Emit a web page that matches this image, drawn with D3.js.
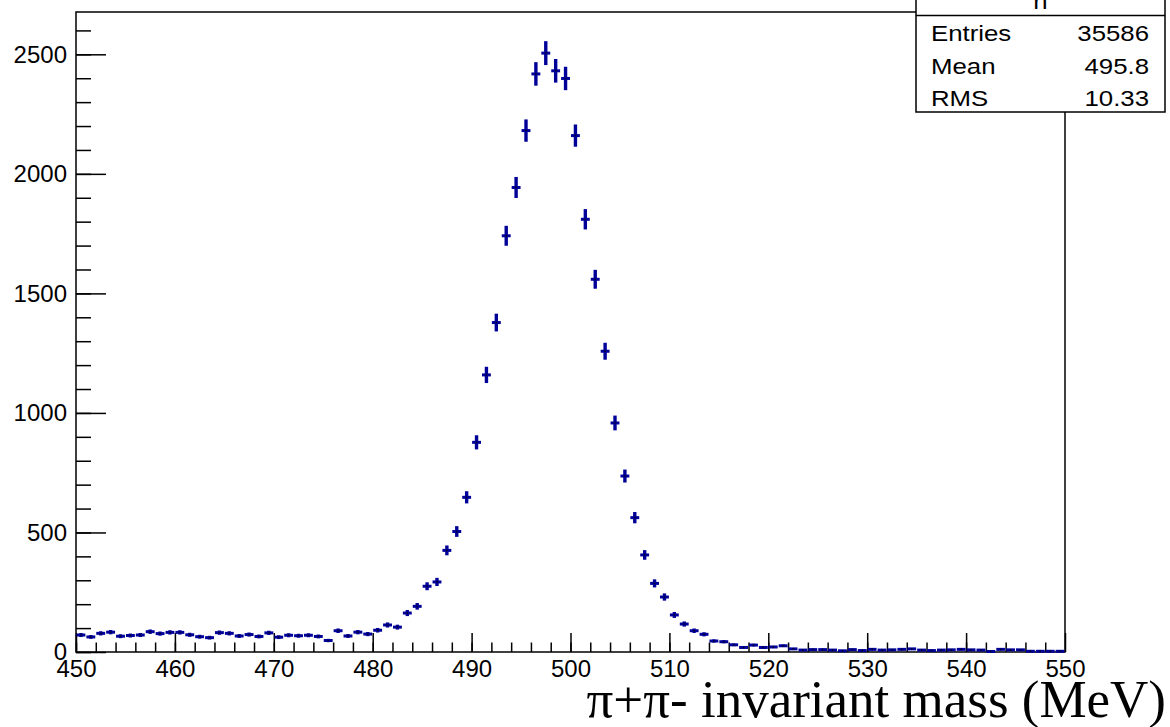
<!DOCTYPE html>
<html>
<head>
<meta charset="utf-8">
<script src="https://cdn.jsdelivr.net/npm/d3@7"></script>
<style>
  body { margin: 0; background: #fff; }
  svg { display: block; }
  .axis text { font-family: "Liberation Sans", Arial, Helvetica, sans-serif; fill: #000; }
  .axis line { stroke: #000; stroke-width: 1.5; }
  .stats text { font-family: "Liberation Sans", Arial, Helvetica, sans-serif; font-size: 21.5px; fill: #000; }
</style>
</head>
<body>
<div id="chart"></div>
<script>
(function () {
  "use strict";

  // histogram "h": 100 bins of 1 MeV from 450 to 550
  const xRange = [450, 550];
  const binWidth = 1;
  const counts = [
    71, 63, 78, 83, 66, 69, 71, 85, 77, 82,
    82, 72, 64, 60, 81, 78, 67, 73, 65, 80,
    62, 70, 68, 70, 65, 48, 89, 67, 83, 75,
    91, 113, 104, 163, 191, 275, 293, 425, 504, 647,
    877, 1159, 1378, 1741, 1943, 2181, 2418, 2505, 2431, 2399,
    2160, 1810, 1559, 1258, 958, 736, 562, 406, 287, 230,
    155, 117, 89, 74, 46, 43, 30, 19, 29, 19,
    21, 26, 13, 8, 10, 10, 8, 5, 10, 6,
    11, 8, 9, 11, 13, 8, 6, 8, 9, 11,
    9, 8, 2, 11, 9, 9, 3, 3, 3, 3
  ];
  const yMax = 2677;
  const xMajorTicks = [450, 460, 470, 480, 490, 500, 510, 520, 530, 540, 550];
  const yMajorTicks = [0, 500, 1000, 1500, 2000, 2500];
  const statsTitle = "h";
  const statsLabels = ["Entries", "Mean", "RMS"];
  const statsValues = ["35586", "495.8", "10.33"];
  const xTitle = "\u03c0+\u03c0- invariant mass (MeV)";

  const width = 1170, height = 727;
  const frame = { left: 76, right: 1065, top: 12, bottom: 652 };

  const x = d3.scaleLinear().domain(xRange).range([frame.left, frame.right]);
  const y = d3.scaleLinear().domain([0, yMax]).range([frame.bottom, frame.top]);

  const bins = counts.map((n, i) => {
    let lo = xRange[0] + i * binWidth;
    return { lo, hi: lo + binWidth, mid: lo + binWidth / 2, n, err: Math.sqrt(n) };
  });

  const svg = d3.select("#chart")
    .append("svg")
    .attr("width", width)
    .attr("height", height)
    .attr("viewBox", `0 0 ${width} ${height}`);

  // Frame
  svg.append("rect")
    .attr("x", frame.left)
    .attr("y", frame.top)
    .attr("width", frame.right - frame.left)
    .attr("height", frame.bottom - frame.top)
    .attr("fill", "none")
    .attr("stroke", "#000")
    .attr("stroke-width", 1.5);

  // Minor ticks (no labels)
  svg.append("g")
    .classed("axis", true)
    .attr("transform", `translate(${frame.left},0)`)
    .call(d3.axisLeft(y).tickValues(d3.range(0, yMax, 100)).tickSize(-15).tickFormat(""))
    .call((g) => g.select(".domain").remove());

  svg.append("g")
    .classed("axis", true)
    .attr("transform", `translate(0,${frame.bottom})`)
    .call(d3.axisBottom(x).tickValues(d3.range(xRange[0], xRange[1], 2)).tickSize(-9.5).tickFormat(""))
    .call((g) => g.select(".domain").remove());

  // Major ticks with labels
  svg.append("g")
    .classed("axis", true)
    .attr("transform", `translate(${frame.left},0)`)
    .call(d3.axisLeft(y).tickValues(yMajorTicks).tickSize(-30).tickPadding(9).tickFormat(d3.format("d")))
    .call((g) => g.select(".domain").remove())
    .attr("font-size", 24)
    .attr("font-family", null);

  svg.append("g")
    .classed("axis", true)
    .attr("transform", `translate(0,${frame.bottom})`)
    .call(d3.axisBottom(x).tickValues(xMajorTicks).tickSize(-19).tickPadding(8).tickFormat(d3.format("d")))
    .call((g) => g.select(".domain").remove())
    .attr("font-size", 24)
    .attr("font-family", null);

  // Error bars
  const marks = svg.append("g").classed("points", true);
  marks.selectAll("line.xerr")
    .data(bins)
    .enter()
    .append("line")
    .classed("xerr", true)
    .attr("x1", (d) => x(d.lo) + 0.5)
    .attr("x2", (d) => x(d.hi) - 0.5)
    .attr("y1", (d) => y(d.n))
    .attr("y2", (d) => y(d.n))
    .attr("stroke", "#000099")
    .attr("stroke-width", 3);

  marks.selectAll("line.yerr")
    .data(bins)
    .enter()
    .append("line")
    .classed("yerr", true)
    .attr("x1", (d) => x(d.mid))
    .attr("x2", (d) => x(d.mid))
    .attr("y1", (d) => y(Math.max(0, d.n - d.err)))
    .attr("y2", (d) => y(d.n + d.err))
    .attr("stroke", "#000099")
    .attr("stroke-width", 3.4);

  marks.selectAll("rect.dot")
    .data(bins)
    .enter()
    .append("rect")
    .classed("dot", true)
    .attr("x", (d) => x(d.mid) - 0.75)
    .attr("y", (d) => y(d.n) - 0.75)
    .attr("width", 1.5)
    .attr("height", 1.5)
    .attr("fill", "#000022");

  // Stats box
  const box = { left: 916, right: 1165, top: -30, sep: 15.5, bottom: 112 };
  const stats = svg.append("g").classed("stats", true);
  stats.append("rect")
    .attr("x", box.left)
    .attr("y", box.top)
    .attr("width", box.right - box.left)
    .attr("height", box.bottom - box.top)
    .attr("fill", "#fff")
    .attr("stroke", "#000")
    .attr("stroke-width", 1.5);
  stats.append("line")
    .attr("x1", box.left)
    .attr("x2", box.right)
    .attr("y1", box.sep)
    .attr("y2", box.sep)
    .attr("stroke", "#000")
    .attr("stroke-width", 1.5);
  stats.append("text")
    .attr("text-anchor", "middle")
    .attr("transform", `translate(${(box.left + box.right) / 2},9) scale(1.2,1)`)
    .text(statsTitle);

  const rowBase = [41, 73.5, 106];
  stats.selectAll("text.label")
    .data(statsLabels)
    .enter()
    .append("text")
    .classed("label", true)
    .attr("transform", (d, i) => `translate(931,${rowBase[i]}) scale(1.2,1)`)
    .text((d) => d);
  stats.selectAll("text.value")
    .data(statsValues)
    .enter()
    .append("text")
    .classed("value", true)
    .attr("text-anchor", "end")
    .attr("transform", (d, i) => `translate(1149,${rowBase[i]}) scale(1.2,1)`)
    .text((d) => d);

  // Axis title
  svg.append("text")
    .attr("x", 1166)
    .attr("y", 717)
    .attr("text-anchor", "end")
    .attr("font-family", "'Liberation Serif', 'Times New Roman', serif")
    .attr("font-size", 53)
    .text(xTitle);
})();
</script>
</body>
</html>
